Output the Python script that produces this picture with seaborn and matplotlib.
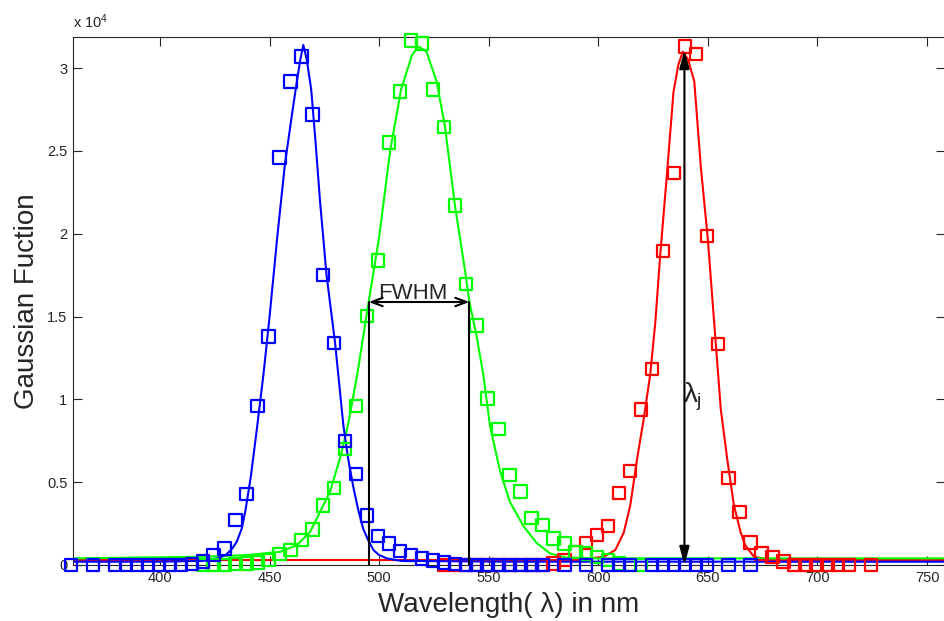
import seaborn as sns
import matplotlib.pyplot as plt

sns.set_style("ticks")
plt.rcParams['font.family'] = ['Liberation Sans', 'DejaVu Sans']
plt.rcParams['mathtext.fontset'] = 'custom'
plt.rcParams['mathtext.rm'] = 'Liberation Sans'
plt.rcParams['mathtext.it'] = 'Liberation Sans'

# values are in units of 10^4
# --- measured points (squares) ---
blue_x = [359.5, 369.5, 379.5, 384.5, 389.5, 394.5, 399.5, 404.5, 409.5, 414.5,
          419.5, 424.5, 429.5, 434.5, 439.5, 444.5, 449.5, 454.5, 459.5, 464.5,
          469.5, 474.5, 479.5, 484.5, 489.5, 494.5, 499.5, 504.5, 509.5, 514.5,
          519.5, 524.5, 529.5, 534.5, 539.5, 544.5, 549.5, 554.5, 559.5, 564.5,
          569.5, 574.5, 584.5, 594.5, 604.5, 609.5, 614.5, 624.5, 629.5, 634.5,
          639.5, 644.5, 649.5, 659.5, 669.5]
blue_y = [0, 0, 0, 0, 0, 0, 0, 0, 0, 0.006,
          0.02, 0.06, 0.10, 0.27, 0.43, 0.96, 1.38, 2.46, 2.92, 3.07,
          2.72, 1.75, 1.34, 0.75, 0.55, 0.30, 0.175, 0.13, 0.085, 0.06,
          0.04, 0.028, 0.016, 0.006, 0, 0, 0, 0, 0, 0,
          0, 0, 0, 0, 0, 0, 0, 0, 0, 0,
          0, 0, 0, 0, 0]

green_x = [419.5, 424.5, 429.5, 434.5, 439.5, 444.5, 449.5, 454.5, 459.5, 464.5,
           469.5, 474.5, 479.5, 484.5, 489.5, 494.5, 499.5, 504.5, 509.5, 514.5,
           519.5, 524.5, 529.5, 534.5, 539.5, 544.5, 549.5, 554.5, 559.5, 564.5,
           569.5, 574.5, 579.5, 584.5, 589.5, 594.5, 599.5, 604.5, 609.5, 614.5,
           619.5]
green_y = [0, 0, 0, 0.005, 0.01, 0.015, 0.03, 0.065, 0.09, 0.15,
           0.215, 0.36, 0.465, 0.70, 0.96, 1.505, 1.838, 2.55, 2.86, 3.168,
           3.15, 2.87, 2.644, 2.17, 1.696, 1.446, 1.005, 0.822, 0.544, 0.444,
           0.285, 0.24, 0.16, 0.13, 0.08, 0.07, 0.05, 0.03, 0.01, 0,
           0]

red_x = [529.5, 534.5, 539.5, 544.5, 549.5, 554.5, 559.5, 564.5, 569.5, 574.5,
         579.5, 584.5, 589.5, 594.5, 599.5, 604.5, 609.5, 614.5, 619.5, 624.5,
         629.5, 634.5, 639.5, 644.5, 649.5, 654.5, 659.5, 664.5, 669.5, 674.5,
         679.5, 684.5, 689.5, 694.5, 699.5, 704.5, 709.5, 714.5, 724.5]
red_y = [0, 0, 0, 0, 0, 0, 0, 0, 0, 0,
         0.01, 0.03, 0.08, 0.132, 0.18, 0.236, 0.434, 0.569, 0.939, 1.182,
         1.895, 2.368, 3.131, 3.085, 1.987, 1.335, 0.525, 0.32, 0.135, 0.07,
         0.05, 0.02, 0, 0, 0, 0, 0, 0, 0]

# --- fitted curves ---
blue_fit_x = [360, 400, 420, 426, 430, 433, 435, 437.3, 439, 441.4, 444, 447.2, 450,
              453.5, 457, 460, 462, 464, 465.4, 467, 469, 471, 473, 476, 479.9,
              483.7, 486, 488.3, 490.5, 492.8, 495, 497.4, 500, 503.5, 510, 560, 760]
blue_fit_y = [0.02, 0.02, 0.025, 0.04, 0.06, 0.1, 0.14, 0.22, 0.33, 0.53, 0.8, 1.15, 1.5,
              1.98, 2.42, 2.7, 2.88, 3.05, 3.14, 3.05, 2.87, 2.55, 2.2, 1.75, 1.34,
              0.84, 0.63, 0.465, 0.33, 0.216, 0.15, 0.09, 0.06, 0.04, 0.025, 0.02, 0.02]

green_fit_x = [360, 420, 440, 455, 462.5, 468.5, 473, 477.5, 482.5, 486, 490, 495.2,
               500, 505, 510, 515, 518, 521.6, 526.2, 530, 534.6, 539.2, 541.2, 544.5,
               547.5, 550.6, 555.1, 559.7, 565.8, 571.9, 578, 585, 600, 760]
green_fit_y = [0.04, 0.05, 0.06, 0.08, 0.12, 0.2, 0.32, 0.44, 0.66, 0.86, 1.15, 1.588,
               1.98, 2.5, 2.87, 3.08, 3.13, 3.1, 2.92, 2.65, 2.17, 1.775, 1.588, 1.38,
               1.15, 0.84, 0.57, 0.38, 0.236, 0.132, 0.07, 0.045, 0.04, 0.04]

red_fit_x = [360, 590, 602.5, 607.8, 611.6, 614.6, 617.6, 620.7, 623.7, 626, 628.3,
             631.3, 634.3, 636.5, 638.6, 641, 643.8, 646.8, 649.9, 652.9, 655.9, 658.9,
             661.9, 664.9, 667, 671, 678.5, 760]
red_fit_y = [0.03, 0.03, 0.05, 0.091, 0.195, 0.361, 0.632, 0.881, 1.151, 1.463, 1.879,
             2.357, 2.856, 3.02, 3.1, 3.05, 2.92, 2.4, 1.98, 1.46, 0.94, 0.632,
             0.36, 0.2, 0.12, 0.05, 0.03, 0.03]

# annotation values
fwhm_left, fwhm_right, half_max = 495.2, 541.2, 1.588
peak_red_x, peak_red_y = 639.3, 3.11

fig = plt.figure(figsize=(9.44, 6.21), dpi=100)
ax = fig.add_axes([73/944, 56/621, 872/944, 528.3/621])

for fx, fy, mx, my, c in [(red_fit_x, red_fit_y, red_x, red_y, 'red'),
                          (green_fit_x, green_fit_y, green_x, green_y, 'lime'),
                          (blue_fit_x, blue_fit_y, blue_x, blue_y, 'blue')]:
    sns.scatterplot(x=mx, y=my, marker='s', s=80, color=c, facecolor='none',
                    edgecolor=c, linewidth=1.6, clip_on=False, ax=ax, zorder=3)
    sns.lineplot(x=fx, y=fy, color=c, linewidth=1.5, ax=ax, zorder=2)

# FWHM marker
ax.plot([fwhm_left, fwhm_left], [0, half_max], color='black', lw=1.5, zorder=4)
ax.plot([fwhm_right, fwhm_right], [0, half_max], color='black', lw=1.5, zorder=4)
ax.annotate('', xy=(fwhm_left, half_max), xytext=(fwhm_right, half_max),
            arrowprops=dict(arrowstyle='<->,head_length=0.8,head_width=0.3',
                            color='black', lw=1.5, shrinkA=0, shrinkB=0,
                            mutation_scale=10), zorder=5)
ax.text((fwhm_left + fwhm_right) / 2 - 2.7, half_max + 0.02, 'FWHM',
        ha='center', va='baseline', fontsize=16)

# lambda_j arrow
ax.annotate('', xy=(peak_red_x, peak_red_y), xytext=(peak_red_x, 0),
            arrowprops=dict(arrowstyle='<|-|>,head_length=1.1,head_width=0.3',
                            color='black', lw=1.5, shrinkA=0, shrinkB=0,
                            mutation_scale=10), zorder=5)
ax.text(peak_red_x - 0.6, 0.98, r'$\lambda_j$', ha='left', va='baseline', fontsize=20)

ax.set_xlim(360.3, 758.2)
ax.set_ylim(0, 3.19)
ax.set_xticks([400, 450, 500, 550, 600, 650, 700, 750])
ax.set_yticks([0, 0.5, 1, 1.5, 2, 2.5, 3])
ax.set_yticklabels(['0', '0.5', '1', '1.5', '2', '2.5', '3'])
ax.tick_params(direction='in', top=True, right=True, length=6.5, width=0.8,
               labelsize=10.5, pad=4, colors='#262626')
for sp in ax.spines.values():
    sp.set_linewidth(0.8)
    sp.set_color('#262626')

ax.set_xlabel('Wavelength( λ) in nm', fontsize=20, labelpad=5)
ax.set_ylabel('Gaussian Fuction', fontsize=20, labelpad=5)
fig.text(73/944, 1 - 28/621, r'x 10$^{4}$', fontsize=10.5, color='#262626',
         ha='left', va='baseline')

fig.savefig('out.png', dpi=100)
